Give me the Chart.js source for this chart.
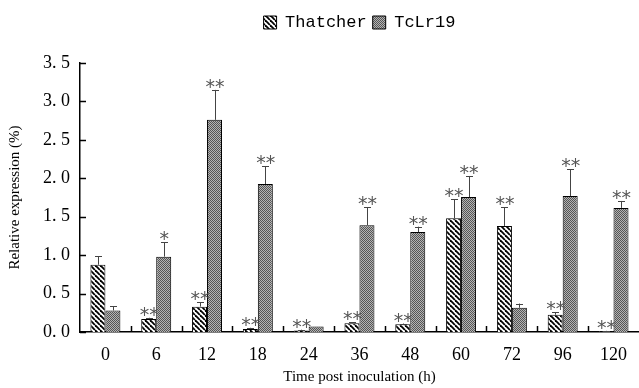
<!DOCTYPE html>
<html><head><meta charset="utf-8">
<script src="https://cdn.jsdelivr.net/npm/chart.js@4/dist/chart.umd.min.js"></script>
<style>html,body{margin:0;padding:0;background:#fff}#wrap{width:639px;height:388px}</style>
</head><body><div id="wrap"><canvas id="c"></canvas></div>
<script>
const categories = ['0','6','12','18','24','36','48','60','72','96','120'];
const thatcher = [0.875,0.17,0.33,0.04,0.02,0.115,0.10,1.48,1.38,0.225,0.01];
const thatcherErr = [0.11,0.015,0.06,0.015,0.01,0.01,0.01,0.25,0.24,0.035,0.005];
const tclr19 = [0.28,0.98,2.76,1.925,0.07,1.39,1.30,1.755,0.315,1.77,1.615];
const tclr19Err = [0.055,0.19,0.39,0.235,0,0.23,0.07,0.275,0.055,0.35,0.09];
const sigThatcher = ['','**','**','**','**','**','**','**','**','**','**'];
const sigTcLr19 = ['','*','**','**','','**','**','**','','**','**'];
const yTicks = [0,0.5,1.0,1.5,2.0,2.5,3.0,3.5];

function hatch(){
  const c=document.createElement('canvas');c.width=5;c.height=5;
  const g=c.getContext('2d');g.fillStyle='#fff';g.fillRect(0,0,5,5);
  g.strokeStyle='#000';g.lineWidth=1.8;
  for(let k=-5;k<=10;k+=5){g.beginPath();g.moveTo(k,0);g.lineTo(k+5,5);g.stroke();}
  return g.createPattern(c,'repeat');
}
function checker(){
  const c=document.createElement('canvas');c.width=2;c.height=2;
  const g=c.getContext('2d');
  g.fillStyle='#b4b4b4';g.fillRect(0,0,2,2);
  g.fillStyle='#555555';g.fillRect(0,0,1,1);g.fillRect(1,1,1,1);
  return g.createPattern(c,'repeat');
}
const ctx=document.getElementById('c').getContext('2d');
const pH=hatch(), pC=checker();

const spacer={
  id:'spacer',
  beforeInit(chart){
    const box={position:'top',weight:100,fullSize:true,options:{},width:0,height:0,
      update(w,h){this.width=w;this.height=22;},
      isHorizontal(){return true;},
      draw(){}};
    Chart.layouts.addBox(chart,box);
  },
  afterLayout(chart){ if(chart.legend){chart.legend.left+=40;chart.legend.right+=40;} }
};

const extras={
  id:'extras',
  afterDatasetsDraw(chart){
    const g=chart.ctx, y=chart.scales.y, x=chart.scales.x, a=chart.chartArea;
    const errs=[thatcherErr,tclr19Err], sigs=[sigThatcher,sigTcLr19], vals=[thatcher,tclr19];
    g.save();
    for(let d=0;d<2;d++){
      const meta=chart.getDatasetMeta(d);
      meta.data.forEach((bar,i)=>{
        const top=y.getPixelForValue(vals[d][i]+errs[d][i]);
        const bx=Math.round(bar.x);
        if(errs[d][i]>0){
          g.strokeStyle='#444';g.lineWidth=1;
          g.beginPath();g.moveTo(bx+0.5,bar.y);g.lineTo(bx+0.5,top);
          g.moveTo(bx-3,Math.round(top)+0.5);g.lineTo(bx+4,Math.round(top)+0.5);g.stroke();
        }
        if(sigs[d][i]){
          g.fillStyle='#555';g.font='19px "DejaVu Sans"';g.textAlign='center';g.textBaseline='alphabetic';
          g.fillText(sigs[d][i],bar.x+0.5,top+3);
        }
      });
    }
    g.strokeStyle='#000';g.lineWidth=1.5;
    yTicks.forEach(v=>{const py=Math.round(y.getPixelForValue(v))+0.5;g.beginPath();g.moveTo(a.left,py);g.lineTo(a.left+6,py);g.stroke();});
    for(let i=1;i<categories.length;i++){
      const px=Math.round((x.getPixelForValue(i-1)+x.getPixelForValue(i))/2)+0.5;
      g.beginPath();g.moveTo(px,a.bottom);g.lineTo(px,a.bottom-6);g.stroke();
    }
    g.restore();
  }
};

new Chart(ctx,{
  type:'bar',
  data:{labels:categories,datasets:[
    {label:'Thatcher',data:thatcher,backgroundColor:pH,borderColor:'#000',borderWidth:1,borderSkipped:'bottom'},
    {label:'TcLr19',data:tclr19,backgroundColor:pC,borderColor:'#000',borderWidth:1,borderSkipped:'bottom'}
  ]},
  options:{
    responsive:true,maintainAspectRatio:false,animation:false,
    layout:{padding:{top:8,right:0,left:0,bottom:0}},
    datasets:{bar:{categoryPercentage:0.59,barPercentage:1}},
    plugins:{
      tooltip:{enabled:false},
      legend:{position:'top',align:'center',
        labels:{boxWidth:13,boxHeight:13,color:'#000',font:{family:'Liberation Mono',size:17},padding:6}
      }
    },
    scales:{
      x:{grid:{display:false,drawTicks:false},border:{color:'#000',width:1.5},
        ticks:{color:'#000',font:{family:'Liberation Serif',size:18},padding:12},
        title:{display:true,text:'Time post inoculation (h)',color:'#000',font:{family:'Liberation Serif',size:15},padding:{top:2,bottom:2}},
        afterFit(s){s.height=56;}},
      y:{min:0,max:3.5,grid:{display:false,drawTicks:false},border:{color:'#000',width:1.5},
        afterBuildTicks(s){s.ticks=yTicks.map(v=>({value:v}));},
        ticks:{color:'#000',font:{family:'Liberation Serif',size:18},padding:10,callback:v=>Number(v).toFixed(1).replace('.','. ')},
        title:{display:true,text:'Relative expression (%)',color:'#000',font:{family:'Liberation Serif',size:15},padding:{top:6,bottom:2}},
        afterFit(s){s.width=80;}}
    }
  },
  plugins:[spacer,extras]
});
</script></body></html>
